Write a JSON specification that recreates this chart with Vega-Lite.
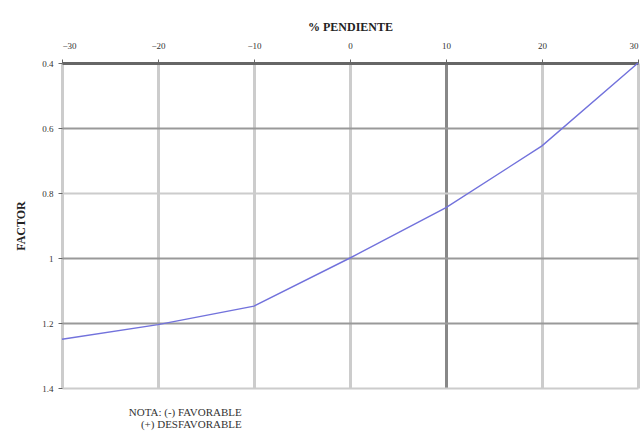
{
  "$schema": "https://vega.github.io/schema/vega-lite/v6.json",
  "autosize": "none",
  "width": 576,
  "height": 325,
  "padding": {"left": 62, "top": 63, "right": 6, "bottom": 48},
  "background": "white",
  "data": {"values": [
    {"pendiente": -30, "factor": 1.25},
    {"pendiente": -20, "factor": 1.205},
    {"pendiente": -10, "factor": 1.148},
    {"pendiente": 0, "factor": 1.0},
    {"pendiente": 10, "factor": 0.845},
    {"pendiente": 20, "factor": 0.655},
    {"pendiente": 30, "factor": 0.4}
  ]},
  "title": {
    "text": ["NOTA: (-) FAVORABLE", "(+) DESFAVORABLE"],
    "orient": "bottom",
    "anchor": "start",
    "align": "right",
    "font": "Liberation Serif",
    "fontSize": 11,
    "fontWeight": "normal",
    "color": "#333",
    "offset": 14,
    "dx": 227,
    "lineHeight": 12
  },
  "config": {
    "view": {"stroke": null},
    "axis": {"labelFont": "Liberation Serif", "titleFont": "Liberation Serif", "labelColor": "#333", "titleColor": "#222"}
  },
  "mark": {"type": "line", "color": "#7272dc", "strokeWidth": 1.4},
  "encoding": {
    "x": {
      "field": "pendiente", "type": "quantitative",
      "scale": {"domain": [-30, 30], "nice": false},
      "axis": {
        "orient": "top",
        "values": [-30, -20, -10, 0, 10, 20, 30],
        "title": "% PENDIENTE",
        "titleFontSize": 12,
        "titleFontWeight": "bold",
        "titlePadding": 8,
        "labelFontSize": 9,
        "labelPadding": 9,
        "tickSize": 4,
        "tickColor": "#666",
        "domain": false,
        "grid": true,
        "gridWidth": 3,
        "gridColor": {"condition": {"test": "datum.value == 10", "value": "#888888"}, "value": "#cccccc"}
      }
    },
    "y": {
      "field": "factor", "type": "quantitative",
      "scale": {"domain": [0.4, 1.4], "reverse": true, "nice": false, "zero": false},
      "axis": {
        "values": [0.4, 0.6, 0.8, 1, 1.2, 1.4],
        "labelExpr": "format(datum.value, '~g')",
        "title": "FACTOR",
        "titleFontSize": 12,
        "titleFontWeight": "bold",
        "titlePadding": 14,
        "labelFontSize": 9,
        "labelPadding": 5,
        "tickSize": 4,
        "tickColor": "#666",
        "domain": false,
        "grid": true,
        "gridWidth": {"condition": {"test": "datum.value == 0.4", "value": 3}, "value": 2},
        "gridColor": {"condition": [
          {"test": "datum.value == 0.4", "value": "#666666"},
          {"test": "datum.value == 0.8 || datum.value == 1.4", "value": "#cccccc"}
        ], "value": "#999999"}
      }
    }
  }
}
